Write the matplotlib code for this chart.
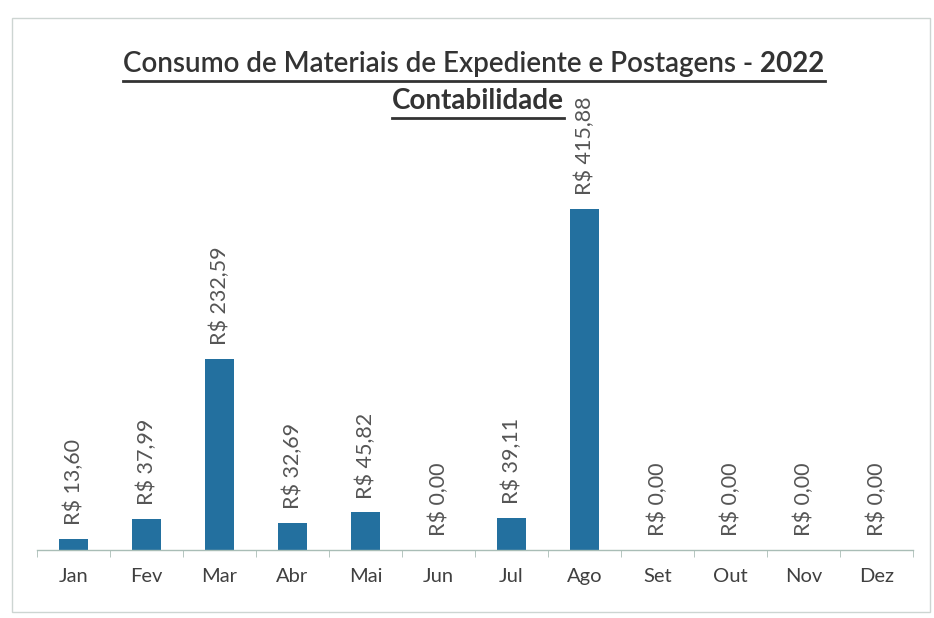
import numpy as np
import matplotlib
matplotlib.use("Agg")
import matplotlib.pyplot as plt
from matplotlib.patches import Rectangle
from matplotlib.lines import Line2D

months = ["Jan", "Fev", "Mar", "Abr", "Mai", "Jun", "Jul", "Ago", "Set", "Out", "Nov", "Dez"]
values = [13.60, 37.99, 232.59, 32.69, 45.82, 0.00, 39.11, 415.88, 0.00, 0.00, 0.00, 0.00]
value_labels = ["R$ 13,60", "R$ 37,99", "R$ 232,59", "R$ 32,69", "R$ 45,82", "R$ 0,00",
                "R$ 39,11", "R$ 415,88", "R$ 0,00", "R$ 0,00", "R$ 0,00", "R$ 0,00"]
title_main = "Consumo de Materiais de Expediente e Postagens - "
title_year = "2022"
subtitle = "Contabilidade"

W, H = 934, 618
fig = plt.figure(figsize=(W / 100, H / 100), dpi=100)
fig.patch.set_facecolor("white")

# chart border
fig.add_artist(Rectangle((12 / W, 1 - 612 / H), (930 - 12) / W, (612 - 18) / H,
                         transform=fig.transFigure, fill=False,
                         edgecolor="#cdd5d2", linewidth=1.0))

ax = fig.add_axes([37 / W, 1 - 550 / H, (913 - 37) / W, (550 - 100) / H])
x = np.arange(len(months))
ax.bar(x, values, width=0.41, color="#23709f")
ax.set_xlim(-0.5, 11.5)
ax.set_ylim(0, 549)
for s in ["top", "right", "left"]:
    ax.spines[s].set_visible(False)
ax.spines["bottom"].set_color("#a9bdb6")
ax.spines["bottom"].set_linewidth(1.0)
ax.set_yticks([])
ax.set_xticks(x)
ax.set_xticklabels(months, fontname="Lato", fontsize=14.5, color="#404040")
ax.tick_params(axis="x", which="major", length=0, pad=13)
ax.set_xticks(np.arange(-0.5, 12, 1), minor=True)
ax.tick_params(axis="x", which="minor", length=5, color="#a9bdb6", direction="out")

for xi, v, lab in zip(x, values, value_labels):
    ax.annotate(lab, (xi, v), xytext=(0, 10), textcoords="offset points",
                rotation=90, ha="center", va="bottom", fontname="Lato",
                fontsize=15.5, color="#555555")

# Title with underline
fig.canvas.draw()
r = fig.canvas.get_renderer()
fs = 20
t1 = fig.text(0, 1 - 64 / H, title_main, fontname="Lato", fontsize=fs,
              fontweight="semibold", color="#333333", va="center", ha="left")
t2 = fig.text(0, 1 - 64 / H, title_year, fontname="Lato", fontsize=fs,
              fontweight="bold", color="#333333", va="center", ha="left")
w1 = t1.get_window_extent(r).width
w2 = t2.get_window_extent(r).width
cx = 474
x0 = cx - (w1 + w2) / 2
t1.set_x(x0 / W)
t2.set_x((x0 + w1) / W)
fig.add_artist(Line2D([x0 / W, (x0 + w1 + w2) / W], [1 - 81 / H, 1 - 81 / H],
                      transform=fig.transFigure, color="#333333", linewidth=2))

t3 = fig.text(478 / W, 1 - 101 / H, subtitle, fontname="Lato", fontsize=fs,
              fontweight="bold", color="#333333", va="center", ha="center")
w3 = t3.get_window_extent(r).width
fig.add_artist(Line2D([(478 - w3 / 2) / W, (478 + w3 / 2) / W], [1 - 118 / H, 1 - 118 / H],
                      transform=fig.transFigure, color="#333333", linewidth=2))

fig.savefig("out.png", dpi=100, facecolor="white")
